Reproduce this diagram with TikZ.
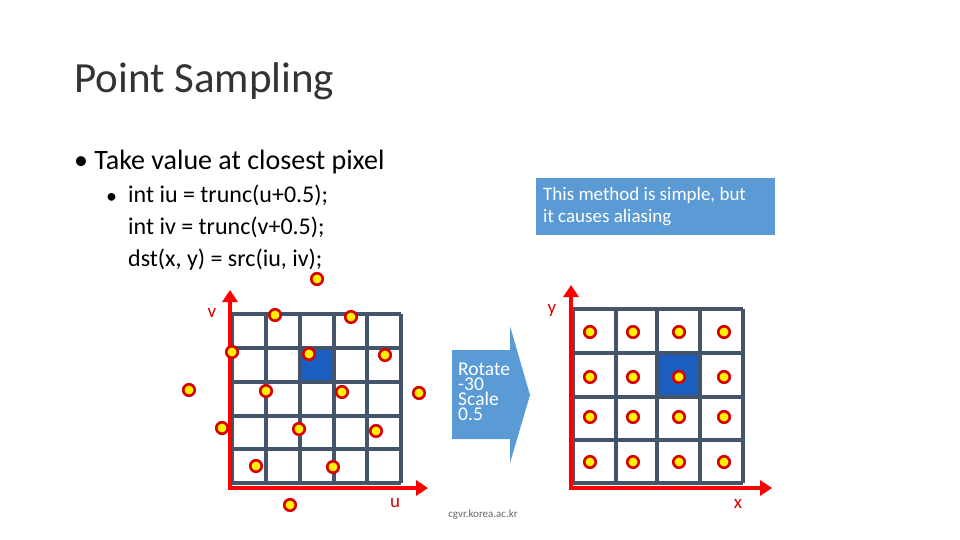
\documentclass[tikz,border=0pt]{standalone}
\usetikzlibrary{arrows.meta}
\usepackage{fontspec}
\setmainfont{Carlito}
\begin{document}
\begin{tikzpicture}[x=1pt,y=-1pt,
  dot/.style={circle,draw=red!85!black,line width=2.6pt,fill=yellow,inner sep=0pt,minimum size=11.5pt},
  axis/.style={draw=red,line width=4.5pt,-{Triangle[length=12pt,width=15pt]}},
  lab/.style={text=red!85!black,font=\fontsize{19}{19}\selectfont}]
\useasboundingbox (0,0) rectangle (960,540);
\definecolor{gl}{HTML}{44546A}
\definecolor{bl}{HTML}{1A5FBF}
\definecolor{cb}{HTML}{5B9BD5}
\node[anchor=west,font=\fontsize{43}{43}\selectfont,text=black!80,inner sep=0pt] (title) at (74,81) {Point Sampling};
\node[anchor=west,font=\fontsize{28}{28}\selectfont,inner sep=0pt] (b1) at (74,162) {\textbullet\ Take value at closest pixel};
\node[anchor=west,font=\fontsize{22}{22}\selectfont,inner sep=0pt] (b2) at (106,198) {\textbullet};
\node[anchor=north west,font=\fontsize{24}{32}\selectfont,align=left,inner sep=0pt] (code) at (128,185) {int iu = trunc(u+0.5);\\int iv = trunc(v+0.5);\\dst(x, y) = src(iu, iv);};
\node[fill=cb,anchor=north west,minimum width=239pt,minimum height=57pt,inner sep=0pt] (call) at (536,178) {};
\node[anchor=north west,text=white,align=left,font=\fontsize{19}{22}\selectfont,inner sep=0pt] (callt) at (543,187) {This method is simple, but\\it causes aliasing};
% left grid
\fill[bl] (300,348) rectangle (334,382);
\foreach \x in {232,266,300,334,367,401} \draw[draw=gl,line width=3.2pt] (\x,314) -- (\x,483);
\foreach \y in {314,348,382,416,449,483} \draw[draw=gl,line width=3.2pt] (232,\y) -- (401,\y);
\coordinate (o1) at (230,488);
\coordinate (v1) at (230,290);
\coordinate (u1) at (428,488);
\draw[axis] (o1) -- (v1);
\draw[axis] ([xshift=-2.25pt]o1) -- (u1);
\node[lab] (lv) at (212,313) {v};
\node[lab] (lu) at (395,503) {u};
\foreach \p [count=\i] in {(317,279),(275,315),(351,317),(232,352),(309,354),(385,355),(189,390),(266,391),(342,392),(419,393),(222,428),(299,429),(376,431),(256,466),(333,467),(290,505)}
  \node[dot] (l\i) at \p {};
% arrow
\fill[cb] (452,350) -- (510,350) -- (510,326) -- (530,395) -- (510,463) -- (510,439) -- (452,439) -- cycle;
\node[anchor=north west,text=white,align=left,inner sep=0pt,font=\fontsize{19.5}{15}\selectfont] (arrt) at (458,363) {Rotate\\-30\\Scale\\0.5};
% right grid
\fill[bl] (657,353) rectangle (700,397);
\foreach \x in {573,616,657,700,743} \draw[draw=gl,line width=3.2pt] (\x,309) -- (\x,483);
\foreach \y in {309,353,397,440,483} \draw[draw=gl,line width=3.2pt] (573,\y) -- (743,\y);
\coordinate (o2) at (571,488);
\coordinate (y2) at (571,285);
\coordinate (x2) at (772,488);
\draw[axis] (o2) -- (y2);
\draw[axis] ([xshift=-2.25pt]o2) -- (x2);
\node[lab] (ly) at (552,310) {y};
\node[lab] (lx) at (738,504) {x};
\foreach \x [count=\i] in {590,633,679,724}
  \foreach \y [count=\j] in {332,377,417,462}
    \node[dot] (r\i\j) at (\x,\y) {};
\node[text=black!60,font=\fontsize{11}{11}\selectfont] (src) at (483,515) {cgvr.korea.ac.kr};
\end{tikzpicture}
\end{document}
